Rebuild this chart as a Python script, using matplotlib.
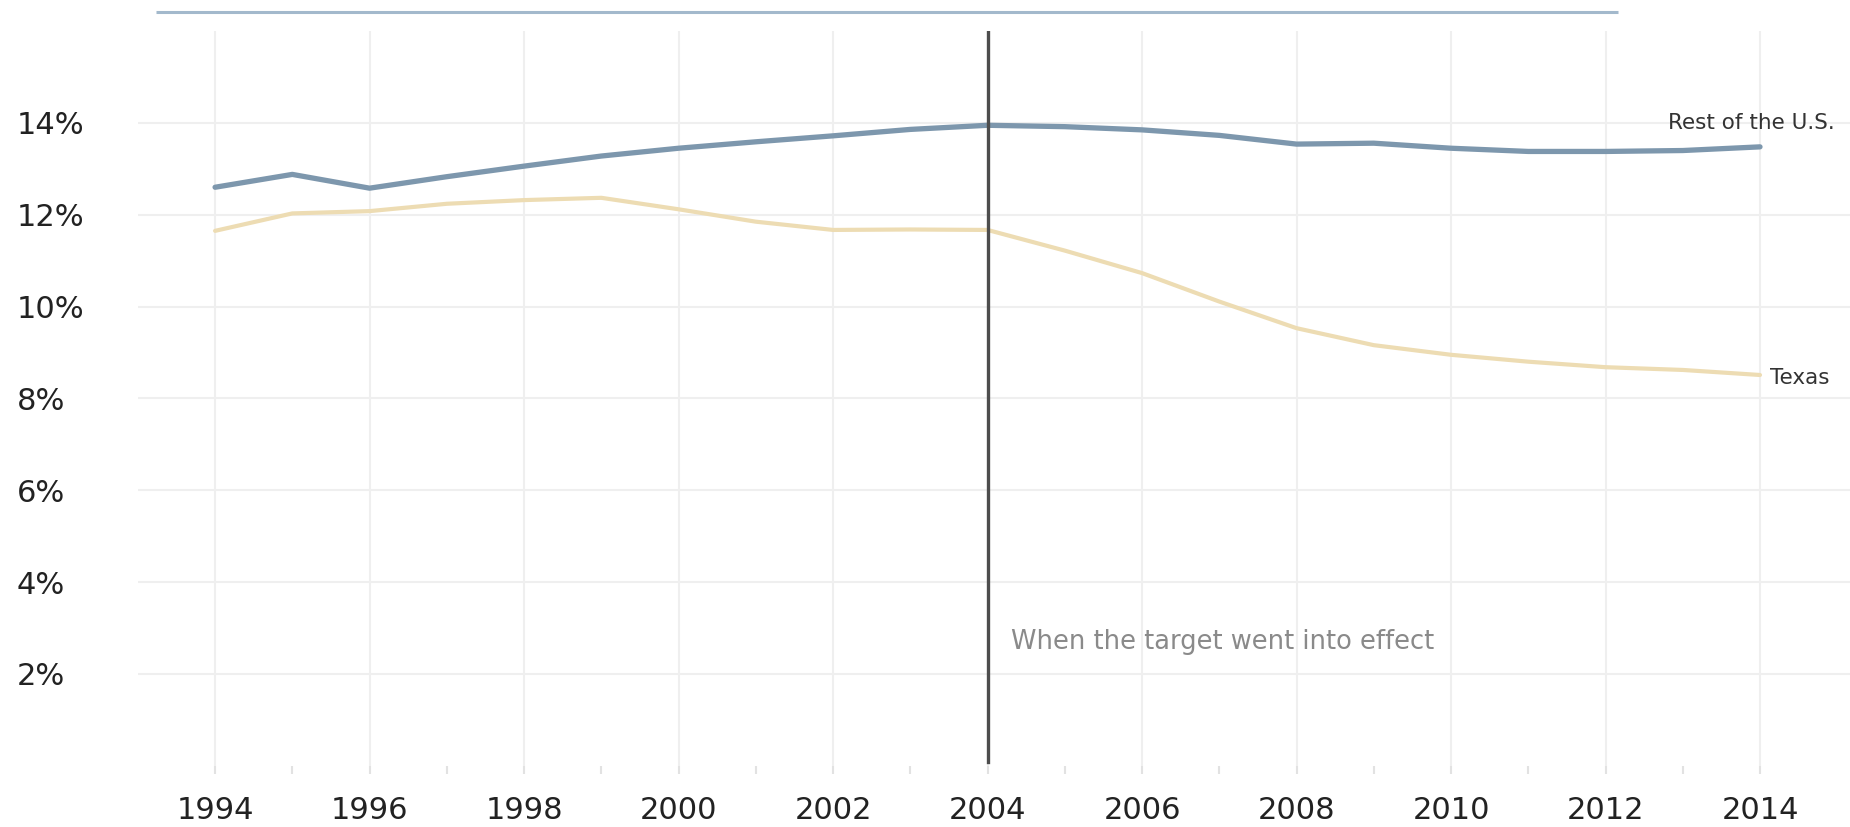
import matplotlib
matplotlib.use("Agg")
import matplotlib.pyplot as plt
from matplotlib.lines import Line2D

# uninsured rate by year, percent
years = list(range(1994, 2015))
rest_of_us = [12.60, 12.88, 12.58, 12.83, 13.06, 13.28, 13.45, 13.59, 13.72, 13.86,
              13.95, 13.92, 13.85, 13.73, 13.54, 13.56, 13.45, 13.38, 13.38, 13.40, 13.48]
texas = [11.65, 12.03, 12.08, 12.24, 12.32, 12.37, 12.12, 11.85, 11.67, 11.68,
         11.67, 11.22, 10.73, 10.11, 9.53, 9.16, 8.95, 8.80, 8.68, 8.62, 8.51]

y_ticks = [2, 4, 6, 8, 10, 12, 14]
y_labels = ['2%', '4%', '6%', '8%', '10%', '12%', '14%']
x_ticks = list(range(1994, 2015, 2))
target_year = 2004

plt.rcParams['font.family'] = ['DejaVu Sans']

fig = plt.figure(figsize=(18.5, 8.27), dpi=100)
ax = fig.add_axes([0.0745, 0.0742, 0.9255, 0.8881])

# thin rule across the top
fig.add_artist(Line2D([0.0843, 0.8746], [0.985, 0.985], transform=fig.transFigure,
                      color='#a3b9cc', lw=2.2, solid_capstyle='butt'))

ax.plot(years, rest_of_us, color='#7d97ad', lw=3.8, solid_capstyle='round', zorder=3)
ax.plot(years, texas, color='#eddcb3', lw=3.0, solid_capstyle='round', zorder=3)

ax.axvline(target_year, ymin=0.005, ymax=1.0, color='#4d4d4d', lw=2.4, zorder=4)
ax.annotate('When the target went into effect', xy=(target_year, 2.7),
            xytext=(17, 0), textcoords='offset points', ha='left', va='center',
            fontsize=18.5, color='#8a8a8a')

ax.annotate('Rest of the U.S.', xy=(years[-1], rest_of_us[-1]), xytext=(54, 17),
            textcoords='offset points', ha='right', va='center',
            fontsize=15.5, color='#333333')
ax.annotate('Texas', xy=(years[-1], texas[-1]), xytext=(7, -2),
            textcoords='offset points', ha='left', va='center',
            fontsize=15.5, color='#333333')

ax.set_xlim(1993.0, 2015.165)
ax.set_ylim(0, 16)

ax.set_yticks(y_ticks)
ax.set_yticklabels(y_labels, fontsize=22, color='#222222')
for lab in ax.get_yticklabels():
    lab.set_horizontalalignment('left')
ax.tick_params(axis='y', length=0, pad=87)

ax.set_xticks(x_ticks)
ax.set_xticks(years, minor=True)
ax.set_xticklabels([str(y) for y in x_ticks], fontsize=22, color='#222222')
ax.tick_params(axis='x', which='both', length=6, width=1.5, color='#e2e2e2',
               direction='out', pad=16)

ax.grid(True, which='major', color='#efefef', lw=1.5)
for side in ['top', 'right', 'bottom', 'left']:
    ax.spines[side].set_visible(False)

fig.savefig('out.png', dpi=100, facecolor='white')
